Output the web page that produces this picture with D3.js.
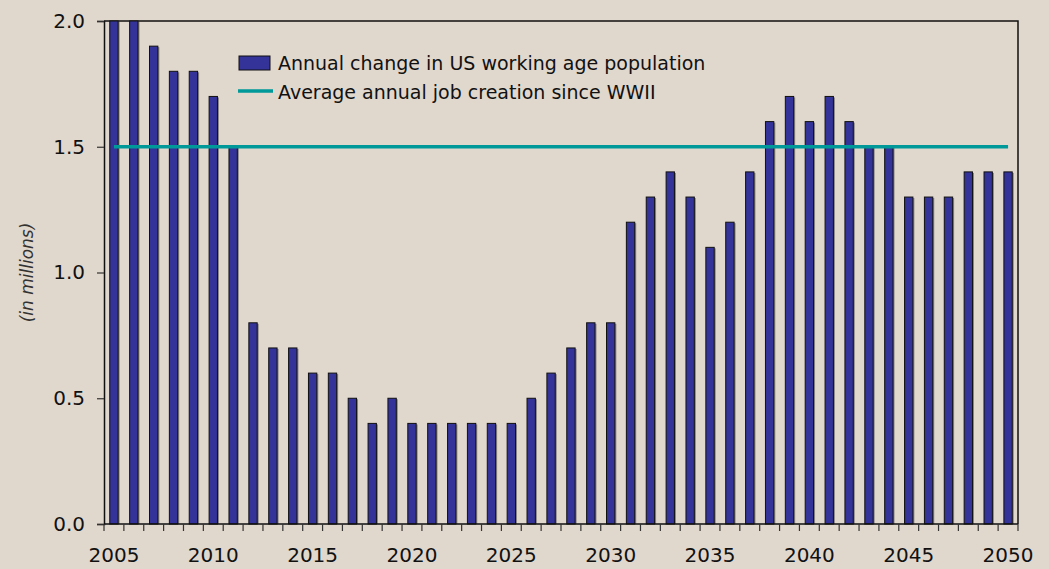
<!DOCTYPE html>
<html>
<head>
<meta charset="utf-8">
<script src="https://cdn.jsdelivr.net/npm/d3@7"></script>
<style>
  body { margin: 0; background: #e0d7cd; }
  svg { display: block; }
</style>
</head>
<body>
<div id="chart"></div>
<script>
const WIDTH = 1049;
const HEIGHT = 569;

const YEARS = d3.range(2005, 2051);
const POP_CHANGE = [2.0, 2.0, 1.9, 1.8, 1.8, 1.7, 1.5, 0.8, 0.7, 0.7,
                    0.6, 0.6, 0.5, 0.4, 0.5, 0.4, 0.4, 0.4, 0.4, 0.4,
                    0.4, 0.5, 0.6, 0.7, 0.8, 0.8, 1.2, 1.3, 1.4, 1.3,
                    1.1, 1.2, 1.4, 1.6, 1.7, 1.6, 1.7, 1.6, 1.5, 1.5,
                    1.3, 1.3, 1.3, 1.4, 1.4, 1.4];
const JOB_AVG = 1.5;
const Y_TICKS = [0, 0.5, 1.0, 1.5, 2.0];
const X_LABELS = [2005, 2010, 2015, 2020, 2025, 2030, 2035, 2040, 2045, 2050];

const LEGEND = ['Annual change in US working age population', 'Average annual job creation since WWII'];

const MARGIN = {top: 21, right: 31, bottom: 45, left: 104};
const FONT = "'DejaVu Sans', Verdana, sans-serif";

const svg = d3.select('#chart').append('svg')
    .attr('width', WIDTH)
    .attr('height', HEIGHT);

svg.append('rect')
    .attr('width', WIDTH)
    .attr('height', HEIGHT)
    .attr('fill', '#e0d7cd');

const x = d3.scaleBand()
    .domain(YEARS)
    .range([MARGIN.left, WIDTH - MARGIN.right])
    .paddingInner(0.58)
    .paddingOuter(0.29);

const step = x.step();

const y = d3.scaleLinear()
    .domain([0, 2])
    .range([HEIGHT - MARGIN.bottom, MARGIN.top]);

const x0 = MARGIN.left, x1 = WIDTH - MARGIN.right;
const y0 = y(0), y1 = y(2);

// frame: top and right
svg.append('path')
    .attr('d', `M${x0},${y1}H${x1}V${y0}`)
    .attr('fill', 'none')
    .attr('stroke', '#111')
    .attr('stroke-width', 1.5);

// bars, with a faint shadow
const bars = svg.append('g');
bars.selectAll('rect.shadow')
    .data(YEARS)
    .join('rect')
    .attr('class', 'shadow')
    .attr('x', d => x(d) + 1.5)
    .attr('y', (d, i) => y(POP_CHANGE[i]) + 1)
    .attr('width', x.bandwidth())
    .attr('height', (d, i) => y0 - y(POP_CHANGE[i]) - 1)
    .attr('fill', '#8a847c');

bars.selectAll('rect.bar')
    .data(YEARS)
    .join('rect')
    .attr('class', 'bar')
    .attr('x', d => x(d))
    .attr('y', (d, i) => y(POP_CHANGE[i]))
    .attr('width', x.bandwidth())
    .attr('height', (d, i) => y0 - y(POP_CHANGE[i]))
    .attr('fill', '#333399')
    .attr('stroke', '#111')
    .attr('stroke-width', 1);

// average job creation line
svg.append('line')
    .attr('x1', x(YEARS[0]) + x.bandwidth() / 2)
    .attr('x2', x(YEARS[YEARS.length - 1]) + x.bandwidth() / 2)
    .attr('y1', y(JOB_AVG))
    .attr('y2', y(JOB_AVG))
    .attr('stroke', '#009999')
    .attr('stroke-width', 3.5);

// y axis
const yAxis = svg.append('g')
    .attr('transform', `translate(${x0},0)`)
    .call(d3.axisLeft(y).tickValues(Y_TICKS).tickFormat(d3.format('.1f')).tickSize(7).tickPadding(12));
yAxis.select('.domain').attr('stroke', '#111').attr('stroke-width', 1.5);
yAxis.selectAll('.tick line').attr('stroke', '#333').attr('stroke-width', 1.2);
yAxis.selectAll('text')
    .attr('font-family', FONT)
    .attr('font-size', 20)
    .attr('fill', '#111');

// x axis: ticks at category boundaries, labels every 5 years
const xg = svg.append('g').attr('transform', `translate(0,${y0})`);
xg.append('line')
    .attr('x1', x0).attr('x2', x1)
    .attr('stroke', '#111').attr('stroke-width', 1.5);
xg.selectAll('line.tk')
    .data(YEARS.concat([YEARS[YEARS.length - 1] + 1]))
    .join('line')
    .attr('class', 'tk')
    .attr('x1', (d, i) => x0 + i * step)
    .attr('x2', (d, i) => x0 + i * step)
    .attr('y1', 0).attr('y2', 7)
    .attr('stroke', '#333').attr('stroke-width', 1.2);
xg.selectAll('text')
    .data(X_LABELS)
    .join('text')
    .attr('x', d => x(d) + x.bandwidth() / 2)
    .attr('y', 38)
    .attr('text-anchor', 'middle')
    .attr('font-family', FONT)
    .attr('font-size', 20)
    .attr('fill', '#111')
    .text(d => d);

// y title
svg.append('text')
    .attr('transform', `translate(33,${(y0 + y1) / 2}) rotate(-90)`)
    .attr('text-anchor', 'middle')
    .attr('font-family', FONT)
    .attr('font-style', 'italic')
    .attr('font-size', 17)
    .attr('fill', '#333')
    .text('(in millions)');

// legend
const lg = svg.append('g').attr('transform', 'translate(239,56)');
lg.append('rect')
    .attr('width', 31).attr('height', 14)
    .attr('fill', '#333399').attr('stroke', '#111').attr('stroke-width', 1);
lg.append('line')
    .attr('x1', -1).attr('x2', 34).attr('y1', 35).attr('y2', 35)
    .attr('stroke', '#009999').attr('stroke-width', 3.5);
lg.selectAll('text')
    .data(LEGEND)
    .join('text')
    .attr('x', 39)
    .attr('y', (d, i) => 14 + i * 29)
    .attr('font-family', FONT)
    .attr('font-size', 19)
    .attr('fill', '#111')
    .text(d => d);
</script>
</body>
</html>
